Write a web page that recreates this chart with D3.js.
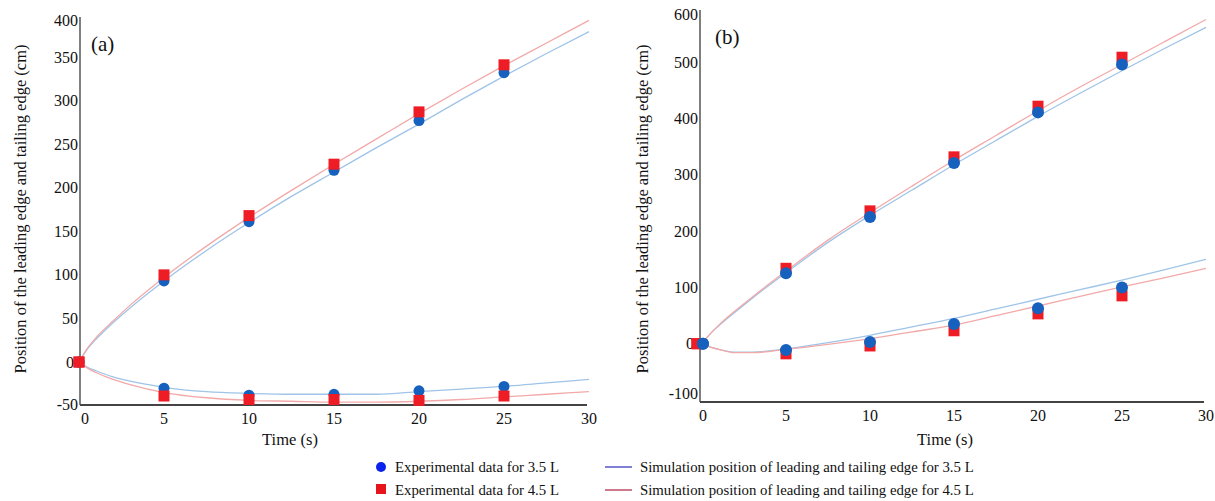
<!DOCTYPE html>
<html>
<head>
<meta charset="utf-8">
<script src="https://cdn.jsdelivr.net/npm/d3@7"></script>
<style>
  body { margin: 0; background: #fff; }
  svg { display: block; }
  svg text { font-family: "Liberation Serif", "DejaVu Serif", "Times New Roman", serif; }
</style>
</head>
<body>
<svg id="chart" width="1215" height="501"></svg>
<script>
// experimental time points (s)
const expTimes = [0, 5, 10, 15, 20, 25];
// simulation time points (s)
const simTimes = [0, 0.5, 1, 2, 3, 5, 7.5, 10, 12.5, 15, 17.5, 20, 22.5, 25, 27.5, 30];

// panel (a)
const aLead35 = [0, 93, 161, 220, 277, 332];
const aLead45 = [0, 100, 168, 227, 287, 341];
const aTrail35 = [0, -30, -38, -37, -33, -28];
const aTrail45 = [0, -39, -43, -43, -44, -39];
const aSimLead35 = [0, 15, 26, 45, 62, 93, 128, 160, 190, 218, 246, 273, 301, 328, 354, 379];
const aSimLead45 = [0, 16, 28, 47, 65, 97, 133, 166, 197, 227, 256, 285, 313, 340, 366, 392];
const aSimTrail35 = [0, -6, -10, -17, -22, -29, -34, -36, -37, -37, -37, -34, -31, -28, -24, -20];
const aSimTrail45 = [0, -7, -12, -20, -26, -35, -41, -44, -45, -46, -46, -45, -43, -40, -37, -34];

// panel (b)
const bLead35 = [0, 125, 225, 321, 411, 496];
const bLead45 = [0, 134, 236, 332, 422, 509];
const bTrail35 = [0, -11, 3, 35, 63, 100];
const bTrail45 = [0, -18, -4, 23, 53, 85];
const bSimLead35 = [0, 18, 32, 57, 81, 126, 180, 228, 273, 318, 361, 404, 445, 485, 524, 562];
const bSimLead45 = [0, 18, 33, 59, 83, 129, 184, 233, 280, 326, 370, 414, 456, 496, 536, 576];
const bSimTrail35 = [0, -6, -10, -15, -15, -9, 2, 15, 30, 45, 62, 79, 96, 113, 131, 150];
const bSimTrail45 = [0, -6, -10, -16, -16, -10, -1, 9, 21, 33, 50, 67, 84, 101, 117, 134];

const xTicks = [0, 5, 10, 15, 20, 25, 30];
const aYTicks = [-50, 0, 50, 100, 150, 200, 250, 300, 350, 400];
const bYTicks = [-100, 0, 100, 200, 300, 400, 500, 600];

const yTitle = "Position of the leading edge and tailing edge (cm)";
const legendMarks = ["Experimental data for 3.5 L", "Experimental data for 4.5 L"];
const legendLines = [
  "Simulation position of leading and tailing edge for 3.5 L",
  "Simulation position of leading and tailing edge for 4.5 L"
];

const blueDot = "#1660be", redDot = "#ee1c25";
const blueSim = "#9fc4e8", redSim = "#f2a9a9";

const svg = d3.select("#chart");

const panels = [
  {
    label: "(a)", labelPos: [91, 51],
    xRange: [79, 589], yDomain: [-50, 400], yRange: [405.6, 13.4],
    axisX: 80, axisBottom: 405, axisTop: 17, axisRight: 587,
    yTicks: aYTicks, labelTop: 20, labelBottom: 404,
    titleX: 20, timeX: 290, zeroShift: 6,
    exp: [[aLead35, aTrail35], [aLead45, aTrail45]],
    sim: [[aSimLead35, aSimTrail35], [aSimLead45, aSimTrail45]],
    blueOnTop: false, r: 5.5, sq: 11
  },
  {
    label: "(b)", labelPos: [715, 44],
    xRange: [702, 1206], yDomain: [-100, 600], yRange: [400, 6],
    axisX: 700, axisBottom: 402, axisTop: 10, axisRight: 1204,
    yTicks: bYTicks, labelTop: 14, labelBottom: 393,
    titleX: 642, timeX: 945, zeroShift: 1,
    exp: [[bLead35, bTrail35], [bLead45, bTrail45]],
    sim: [[bSimLead35, bSimTrail35], [bSimLead45, bSimTrail45]],
    blueOnTop: true, r: 6, sq: 11
  }
];

panels.forEach((p) => {
  const x = d3.scaleLinear().domain([0, 30]).range(p.xRange);
  const y = d3.scaleLinear().domain(p.yDomain).range(p.yRange);
  const g = svg.append("g");

  // axes lines
  g.append("line")
    .attr("x1", p.axisX).attr("x2", p.axisX)
    .attr("y1", p.axisTop).attr("y2", p.axisBottom)
    .style("stroke", "#555").style("stroke-width", 1.5);
  g.append("line")
    .attr("x1", p.axisX).attr("x2", p.axisRight)
    .attr("y1", p.axisBottom).attr("y2", p.axisBottom)
    .style("stroke", "#444").style("stroke-width", 2.2);

  // tick labels (end labels sit slightly inside like the original)
  g.selectAll(".ytick")
    .data(p.yTicks)
    .enter()
    .append("text")
    .attr("x", (d) => p.axisX - (d === 0 ? 6 : 2))
    .attr("y", (d) => Math.min(Math.max(y(d), p.labelTop), p.labelBottom))
    .attr("dy", "0.35em")
    .attr("text-anchor", "end")
    .style("font-size", "16px")
    .style("fill", "#111")
    .text((d) => d);

  g.selectAll(".xtick")
    .data(xTicks)
    .enter()
    .append("text")
    .attr("x", (d) => x(d) + (d === 0 ? p.zeroShift : 0))
    .attr("y", p.axisBottom + 19)
    .attr("text-anchor", "middle")
    .style("font-size", "16px")
    .style("fill", "#111")
    .text((d) => d);

  // titles
  g.append("text")
    .attr("transform", `translate(${p.titleX}, 209) rotate(-90)`)
    .attr("text-anchor", "middle")
    .attr("dy", "0.35em")
    .style("font-size", "16.5px")
    .style("fill", "#111")
    .text(yTitle);

  g.append("text")
    .attr("x", p.timeX)
    .attr("y", 445)
    .attr("text-anchor", "middle")
    .style("font-size", "16.5px")
    .style("fill", "#111")
    .text("Time  (s)");

  g.append("text")
    .attr("x", p.labelPos[0])
    .attr("y", p.labelPos[1])
    .style("font-size", "21px")
    .style("fill", "#111")
    .text(p.label);

  // simulation lines
  const line = d3.line()
    .x((d, i) => x(simTimes[i]))
    .y((d) => y(d))
    .curve(d3.curveMonotoneX);
  const simColors = [blueSim, redSim];
  p.sim.forEach((pair, k) => {
    pair.forEach((vals) => {
      g.append("path")
        .attr("d", line(vals))
        .style("fill", "none")
        .style("stroke", simColors[k])
        .style("stroke-width", 1.3);
    });
  });

  // experimental markers
  const drawBlue = () => {
    p.exp[0].forEach((vals) => {
      g.selectAll(null)
        .data(vals)
        .enter()
        .append("circle")
        .attr("cx", (d, i) => x(expTimes[i]) + (p.blueOnTop && i === 0 ? 1 : 0))
        .attr("cy", (d) => y(d))
        .attr("r", p.r)
        .style("fill", blueDot);
    });
  };
  const drawRed = () => {
    p.exp[1].forEach((vals) => {
      g.selectAll(null)
        .data(vals)
        .enter()
        .append("rect")
        .attr("x", (d, i) => x(expTimes[i]) - p.sq / 2 - (p.blueOnTop && i === 0 ? 5 : 0))
        .attr("y", (d) => y(d) - p.sq / 2)
        .attr("width", p.sq)
        .attr("height", p.sq)
        .style("fill", redDot);
    });
  };
  if (p.blueOnTop) { drawRed(); drawBlue(); } else { drawBlue(); drawRed(); }
});

// legend
const leg = svg.append("g").style("font-size", "14.8px").style("fill", "#111");
leg.append("circle").attr("cx", 381).attr("cy", 467).attr("r", 5).style("fill", "#0a22ee");
leg.append("rect").attr("x", 376).attr("y", 484).attr("width", 10).attr("height", 10).style("fill", "#e8141c");
legendMarks.forEach((t, i) => {
  leg.append("text").attr("x", 395).attr("y", 467 + i * 23).attr("dy", "0.35em").text(t);
});
const legLineColors = ["#2a2ab8", "#b02040"];
legendLines.forEach((t, i) => {
  leg.append("line")
    .attr("x1", 605).attr("x2", 632)
    .attr("y1", 467 + i * 23).attr("y2", 467 + i * 23)
    .style("stroke", legLineColors[i]).style("stroke-width", 1.2);
  leg.append("text").attr("x", 640).attr("y", 467 + i * 23).attr("dy", "0.35em").text(t);
});
</script>
</body>
</html>
